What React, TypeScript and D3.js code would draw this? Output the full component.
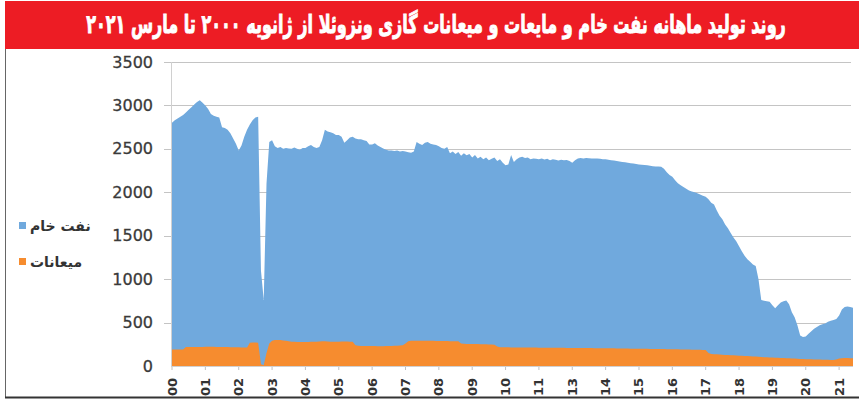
import React from 'react';
import * as d3 from 'd3';

// Monthly crude oil production (thousand b/d), Jan 2000 onward
const crudeOil: number[] = [
  2800, 2830, 2850, 2870, 2890, 2920, 2950, 2980, 3010, 3040, 3060, 3030,
  3000, 2960, 2900, 2880, 2870, 2860, 2750, 2740, 2720, 2680, 2620, 2560,
  2480, 2540, 2640, 2720, 2780, 2830, 2860, 2870, 1100, 760, 2100, 2580,
  2600, 2530, 2510, 2520, 2500, 2510, 2505, 2500, 2515, 2500, 2490, 2510,
  2510, 2530, 2545, 2520, 2510, 2520, 2600, 2720, 2700, 2690, 2680, 2660,
  2660, 2640, 2570, 2600, 2630, 2640, 2620, 2610, 2610, 2600, 2590, 2550,
  2550, 2565, 2540, 2520, 2505, 2490, 2480, 2480, 2475, 2480, 2470, 2475,
  2470, 2460, 2455, 2470, 2580, 2560, 2545, 2570, 2580, 2560, 2550, 2545,
  2530, 2510, 2500, 2520, 2450, 2470, 2440, 2465, 2420, 2450, 2425, 2440,
  2400, 2430, 2390, 2410, 2380, 2400, 2370, 2385, 2400, 2360, 2380, 2340,
  2310, 2320, 2430, 2350, 2380, 2400, 2410, 2395, 2400, 2380, 2390, 2385,
  2380, 2390, 2378, 2385, 2370, 2380, 2375, 2365, 2375, 2370, 2372, 2360,
  2340, 2370, 2390, 2395, 2390, 2395, 2392, 2390, 2390, 2388, 2385, 2380,
  2380, 2375, 2370, 2365, 2360, 2355, 2350, 2345, 2340, 2335, 2330, 2325,
  2320, 2318, 2315, 2310, 2305, 2300, 2298, 2296, 2294, 2270, 2230, 2200,
  2180, 2140, 2105, 2080, 2060, 2040, 2020, 2010, 2000, 1990, 1975, 1960,
  1950, 1920, 1880, 1860, 1790, 1730, 1690, 1630, 1585, 1530, 1480, 1435,
  1380, 1320, 1270, 1230, 1200, 1170, 1150, 1000, 760, 750, 745, 740,
  700, 665, 700, 730, 745, 755, 710, 620, 560, 470, 350, 335,
  340, 370, 400, 430, 450, 470, 480, 490, 510, 520, 530, 540,
  580, 650, 680, 685, 680, 670,
];

// Monthly condensate production
const condensate: number[] = [
  190, 190, 190, 190, 190, 220, 220, 220, 220, 220, 220, 220,
  222, 222, 221, 221, 220, 220, 219, 218, 218, 217, 216, 215,
  215, 214, 213, 212, 268, 270, 270, 268, 20, 10, 150, 260,
  290, 300, 300, 300, 295, 290, 285, 280, 278, 276, 275, 275,
  275, 276, 278, 280, 280, 282, 285, 285, 283, 280, 280, 278,
  280, 282, 283, 282, 280, 278, 240, 232, 230, 230, 230, 230,
  230, 230, 228, 228, 228, 230, 230, 230, 232, 232, 235, 240,
  260, 285, 290, 292, 292, 292, 291, 290, 290, 290, 290, 288,
  288, 288, 287, 287, 286, 286, 285, 285, 260, 255, 253, 253,
  253, 252, 252, 250, 250, 250, 248, 248, 246, 225, 216, 215,
  215, 215, 214, 214, 214, 213, 213, 213, 212, 212, 212, 212,
  211, 211, 211, 210, 210, 210, 210, 209, 209, 209, 208, 208,
  208, 208, 207, 207, 207, 206, 206, 206, 205, 205, 205, 204,
  204, 204, 203, 203, 202, 202, 202, 201, 201, 200, 200, 200,
  199, 199, 198, 198, 197, 197, 196, 196, 195, 195, 194, 194,
  193, 193, 192, 191, 190, 190, 189, 188, 188, 187, 186, 185,
  184, 150, 138, 136, 134, 132, 130, 128, 127, 125, 123, 121,
  119, 117, 116, 114, 112, 110, 108, 106, 104, 102, 100, 99,
  97, 96, 94, 92, 91, 89, 88, 86, 85, 83, 82, 80,
  79, 78, 77, 76, 75, 74, 73, 72, 71, 70, 70, 75,
  85, 90, 92, 92, 90, 88,
];

// Year labels as printed (no "12" in the original)
const yearLabels = ['00', '01', '02', '03', '04', '05', '06', '07', '08', '09', '10',
  '11', '13', '14', '15', '16', '17', '18', '19', '20', '21'];

const yTickValues = [0, 500, 1000, 1500, 2000, 2500, 3000, 3500];

const title = 'روند تولید ماهانه نفت خام و مایعات و میعانات گازی ونزوئلا از ژانویه ۲۰۰۰ تا مارس ۲۰۲۱';
const seriesNames = ['نفت خام', 'میعانات'];

const BLUE = '#70a9dd';
const ORANGE = '#f68c2f';

const App: React.FC = () => {
  const W = 859;
  const H = 402;

  const x = d3.scaleLinear().domain([0, crudeOil.length - 1]).range([172, 853]);
  const y = d3.scaleLinear().domain([0, 3500]).range([366, 62]);

  const area = d3.area<number>()
    .x((_, i) => x(i))
    .y0(y(0))
    .y1(d => y(d));

  const labelY = 387;

  return (
    <svg width={W} height={H} style={{ position: 'absolute', left: 0, top: 0, background: '#fff' }}>
      <rect x={0} y={0} width={W} height={H} fill="#fff" />

      {/* title bar */}
      <rect x={5} y={1} width={W - 5} height={48} fill="#ed1c24" />
      <g transform="translate(436,33) scale(0.845,1.35)">
        <text x={0} y={0} textAnchor="middle" fill="#fff" stroke="#fff" strokeWidth={0.7}
          fontFamily="'DejaVu Sans', sans-serif" fontWeight="bold" fontSize={19}>
          {title}
        </text>
      </g>

      {/* frame */}
      <line x1={5.5} y1={49} x2={5.5} y2={397} stroke="#666" strokeWidth={1} />
      <line x1={5} y1={397.5} x2={W} y2={397.5} stroke="#333" strokeWidth={2} />

      {/* gridlines */}
      {yTickValues.filter(v => v > 0).map(v => (
        <line key={v} x1={164} x2={851} y1={Math.round(y(v)) + 0.5} y2={Math.round(y(v)) + 0.5}
          stroke="#c4c4c4" strokeWidth={1} />
      ))}
      <line x1={171.5} x2={171.5} y1={y(3500)} y2={y(0)} stroke="#d0d0d0" />

      {/* areas */}
      <path d={area(crudeOil) || ''} fill={BLUE} />
      <path d={area(condensate) || ''} fill={ORANGE} />

      {/* x axis */}
      <line x1={171} x2={853} y1={366.5} y2={366.5} stroke="#d0d0d0" />
      {yearLabels.map((lab, k) => {
        const px = x(k * 12);
        return (
          <g key={lab}>
            <line x1={px} x2={px} y1={367} y2={370} stroke="#c0c0c0" />
            <text transform={`translate(${px},${labelY}) rotate(-90)`} textAnchor="middle"
              dominantBaseline="central" fontFamily="'DejaVu Sans', sans-serif" fontWeight="bold"
              fontSize={13} fill="#333">
              {lab}
            </text>
          </g>
        );
      })}

      {/* y axis labels */}
      {yTickValues.map(v => (
        <text key={v} x={153} y={y(v)} textAnchor="end" dominantBaseline="central"
          fontFamily="'DejaVu Sans', sans-serif" fontSize={16} fill="#3a3a3a"
          stroke="#3a3a3a" strokeWidth={0.3}>
          {v}
        </text>
      ))}

      {/* legend */}
      {seriesNames.map((name, i) => (
        <g key={name} transform={`translate(19,${222 + i * 36})`}>
          <rect x={0} y={0} width={7} height={7} fill={i === 0 ? BLUE : ORANGE} />
          <text x={11} y={4} dominantBaseline="central" fontFamily="'DejaVu Sans', sans-serif"
            fontWeight="bold" fontSize={14} fill="#333">
            {name}
          </text>
        </g>
      ))}
    </svg>
  );
};

export default App;
